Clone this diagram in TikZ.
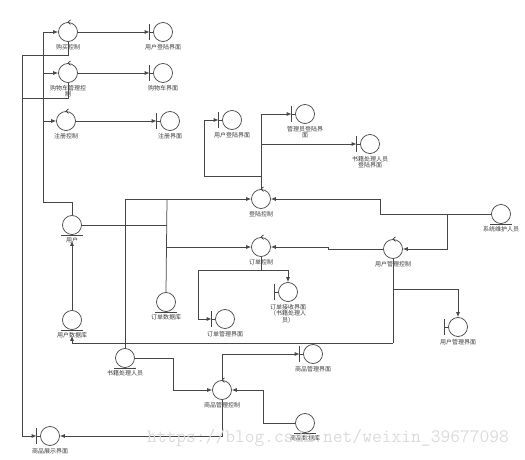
\documentclass[tikz,border=0pt]{standalone}
\usepackage{fontspec}
\newfontfamily\cjk{Noto Sans CJK SC}
\usetikzlibrary{arrows.meta}
\definecolor{linec}{RGB}{70,70,70}
\definecolor{textc}{RGB}{60,60,60}
\begin{document}
\begin{tikzpicture}[x=1pt,y=-1pt,
                    line/.style={draw=linec,line width=.75pt},
                    arr/.style={line,-{Latex[length=5pt,width=4pt]}},
                    obj/.style={circle,draw=linec,line width=.75pt,minimum size=19pt,inner sep=0pt},
                    every label/.style={font=\cjk\fontsize{6}{6.8}\selectfont,text=textc,align=center,inner sep=.5pt},
                    label distance=1.5pt]
 \useasboundingbox (0,0) rectangle (525,460);
 % controls
 \node[obj,label=below:{购买控制}] (buyCtl) at (68,32) {};
 \node[obj,label=below:{购物车管理控\\制}] (cartCtl) at (68,73) {};
 \node[obj,label=below:{注册控制}] (regCtl) at (66,121) {};
 \node[obj,label=below:{登陆控制}] (loginCtl) at (261,199) {};
 \node[obj,label=below:{订单控制}] (orderCtl) at (261,247) {};
 \node[obj,label=below:{用户管理控制}] (userCtl) at (393,249) {};
 \node[obj,label=below:{商品管理控制}] (goodsCtl) at (222,390) {};
 % boundaries
 \node[obj,label=below:{用户登陆界面}] (loginUIa) at (163,32) {};
 \node[obj,label=below:{购物车界面}] (cartUI) at (163,73) {};
 \node[obj,label=below:{注册界面}] (regUI) at (170,121) {};
 \node[obj,label=below:{用户登陆界面}] (loginUIb) at (232,120) {};
 \node[obj,label=below:{管理员登陆界\\面}] (adminUI) at (305,114) {};
 \node[obj,label=below:{书籍处理人员\\登陆界面}] (staffUI) at (370,144) {};
 \node[obj,label=below:{订单接收界面\\（书籍处理人\\员）}] (recvUI) at (288,292) {};
 \node[obj,label=below:{订单管理界面}] (orderUI) at (225,319) {};
 \node[obj,label=below:{用户管理界面}] (userUI) at (458,327) {};
 \node[obj,label=below:{商品管理界面}] (goodsUI) at (313,354) {};
 \node[obj,label=below:{商品展示界面}] (showUI) at (50,436) {};
 % entities
 \node[obj,label=below:{用户}] (user) at (72,225) {};
 \node[obj,label=below:{系统维护人员}] (admin) at (501,214) {};
 \node[obj,label=below:{订单数据库}] (orderDB) at (166,302) {};
 \node[obj,label=below:{用户数据库}] (userDB) at (72,320) {};
 \node[obj,label=below:{书籍处理人员}] (staff) at (125,358) {};
 \node[obj,label=below:{商品数据库}] (goodsDB) at (305,423) {};
 % marks
 \foreach \n in {buyCtl,cartCtl,regCtl,loginCtl,orderCtl,userCtl,goodsCtl}
   \draw[line] ([xshift=2.5pt,yshift=2.3pt]\n.north) -- (\n.north) -- ([xshift=2.5pt,yshift=-2.3pt]\n.north);
 \foreach \n in {loginUIa,cartUI,regUI,loginUIb,adminUI,staffUI,recvUI,orderUI,userUI,goodsUI,showUI}
   \draw[line] (\n.west) -- ++(-3.5,0) coordinate (\n-b) +(0,-8) -- +(0,8);
 \foreach \n in {user,admin,orderDB,userDB,staff,goodsDB}
   \draw[line] ([xshift=-11pt]\n.south) -- ([xshift=11pt]\n.south);
 % bends
 \coordinate (uL) at (43,202);
 \coordinate (sA) at (22,55); \coordinate (sB) at (22,98); \coordinate (sC) at (22,436);
 \coordinate (lgA) at (261,176); \coordinate (lgB) at (261,144); \coordinate (lgC) at (204,176);
 \coordinate (uJ) at (167,225); \coordinate (uT) at (167,199); \coordinate (uO) at (167,247);
 \coordinate (aJ) at (380,214); \coordinate (aK) at (447,214);
 \coordinate (jA) at (328,249); \coordinate (jB) at (328,247);
 \coordinate (ucA) at (393,289); \coordinate (ucB) at (393,343);
 \coordinate (ocA) at (261,270); \coordinate (ocB) at (198,270);
 \coordinate (stA) at (173,358); \coordinate (gdA) at (263,423);
 % connectors
 \draw[line] (user.north) |- (uL);
 \draw[arr] (uL) |- (buyCtl);
 \draw[arr] (uL) |- (cartCtl);
 \draw[arr] (uL) |- (regCtl);
 \draw[arr] (buyCtl) -- (loginUIa-b);
 \draw[arr] (cartCtl) -- (cartUI-b);
 \draw[arr] (regCtl) -- (regUI-b);
 \draw[arr] (buyCtl.south) |- (sA) -- (sC) -- (showUI-b);
 \draw[line] (cartCtl.south) |- (sB);
 \draw[arr] (goodsCtl.south) |- (showUI.east);
 \draw[arr] (loginCtl.north) |- (adminUI-b);
 \draw[arr] (lgB) -- (staffUI-b);
 \draw[arr] (lgA) -- (lgC) |- (loginUIb-b);
 \draw[line] (user.east) -- (uJ);
 \draw[line] (uT) -- (orderDB.north);
 \draw[arr] (staff.north) |- (loginCtl);
 \draw[arr] (uO) -- (orderCtl);
 \draw[arr] (admin.west) -- (aJ) |- (loginCtl);
 \draw[arr] (aK) |- (userCtl);
 \draw[arr] (userCtl) -- (jA) -- (jB) -- (orderCtl);
 \draw[line] (userCtl.south) -- (ucB);
 \draw[arr] (ucA) -| (userUI.north);
 \draw[arr] (ucB) -| ([yshift=-6pt]userDB.south);
 \draw[arr] (userDB.north) -- ([yshift=-6pt]user.south);
 \draw[line] (orderCtl.south) -- (ocA);
 \draw[arr] (ocA) -| (recvUI.north);
 \draw[arr] (ocA) -- (ocB) |- (orderUI-b);
 \draw[arr] (staff.east) -- (stA) |- (goodsCtl);
 \draw[arr] (goodsCtl.north) |- (goodsUI-b);
 \draw[arr] (goodsDB.west) -- (gdA) |- (goodsCtl);
 \node[font=\ttfamily\fontsize{19}{19}\selectfont,text=gray!28,inner sep=0pt] (wm) at (328,438) {https://blog.csdn.net/weixin\_39677098};
\end{tikzpicture}
\end{document}
